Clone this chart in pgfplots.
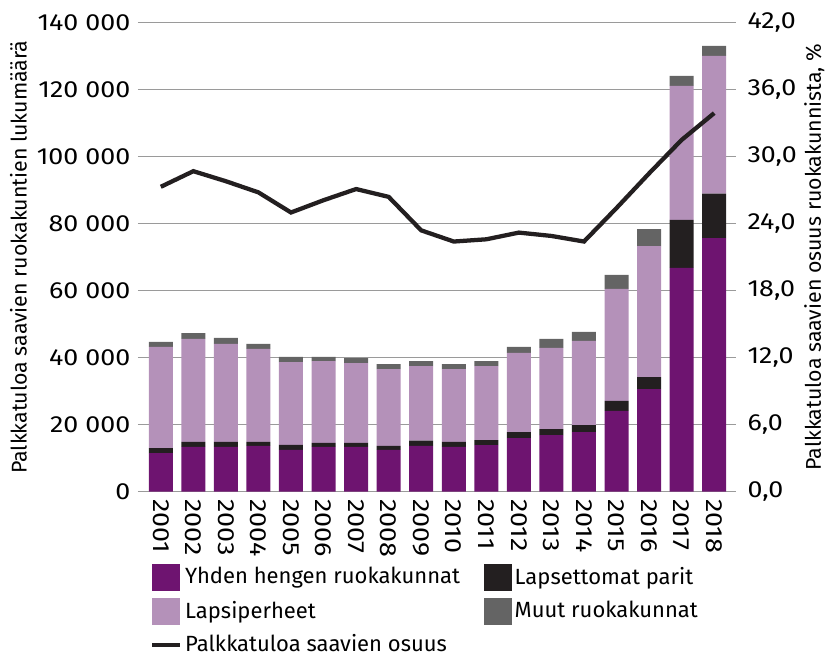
\documentclass[border=0pt]{standalone}
\usepackage{pgfplots}
\pgfplotsset{compat=1.18}
\usepackage{pgfplotstable}
\usepackage{fontspec}
\setmainfont{Fira Sans}
\newfontfamily\tickfont{Fira Sans}[FakeStretch=1.15]
\definecolor{cpurple}{HTML}{6E1470}
\definecolor{clilac}{HTML}{B491B9}
\definecolor{cblack}{HTML}{231F20}
\definecolor{cgray}{HTML}{646464}
\definecolor{cgrid}{HTML}{9A9A9A}
\pgfplotstableread{
x yhden lapsettomat lapsi muut
0 11500 1500 30200 1500
1 13400 1500 30700 1700
2 13400 1500 29200 1800
3 13700 1200 27700 1500
4 12500 1500 24700 1500
5 13400 1200 24400 1200
6 13400 1200 23800 1500
7 12500 1200 22900 1500
8 13700 1500 22300 1500
9 13400 1500 21700 1500
10 13900 1500 22100 1500
11 16000 1800 23600 1800
12 16900 1800 24200 2700
13 17800 2100 25100 2700
14 24100 3000 33400 4200
15 30600 3600 39100 5100
16 66800 14300 40000 3000
17 75700 13300 41100 3000
}\bars
\pgfplotstableread{
x osuus
0 27.3
1 28.7
2 27.8
3 26.8
4 25.0
5 26.1
6 27.1
7 26.4
8 23.4
9 22.4
10 22.6
11 23.2
12 22.9
13 22.4
14 25.4
15 28.5
16 31.5
17 33.9
}\line
\begin{document}
\fontsize{16.5pt}{19pt}\selectfont
\begin{tikzpicture}
\path[use as bounding box] (-103.5pt,-124pt) rectangle (517.5pt,368.75pt);
\begin{axis}[
  at={(0,0)}, anchor=south west,
  scale only axis, width=448.5pt, height=351.75pt,
  ybar stacked, bar width=18pt,
  xmin=-0.7, xmax=17.67,
  ymin=0, ymax=140000,
  scaled y ticks=false,
  xtick=data,
  xticklabels={2001,2002,2003,2004,2005,2006,2007,2008,2009,2010,2011,2012,2013,2014,2015,2016,2017,2018},
  xticklabel style={rotate=-90, anchor=west, font=\tickfont\fontsize{17.5pt}{19pt}\selectfont},
  ytick={0,20000,40000,60000,80000,100000,120000,140000},
  yticklabels={0,20 000,40 000,60 000,80 000,100 000,120 000,140 000},
  yticklabel style={font=\tickfont\fontsize{17.5pt}{19pt}\selectfont},
  axis line style={draw=none},
  major tick length=0pt,
  ymajorgrids, grid style={cgrid, line width=0.8pt},
  ylabel={Palkkatuloa saavien ruokakuntien lukumäärä},
  every axis y label/.style={at={(axis description cs:-0.2000,0.5)}, anchor=center, rotate=90, font=\fontsize{16pt}{18pt}\selectfont},
  legend columns=2,
  legend cell align=left,
  legend style={draw=none, fill=none, at={(axis description cs:0,0)}, anchor=north west,
    xshift=6pt, yshift=-52pt, font=\fontsize{16.5pt}{19pt}\selectfont,
    /tikz/every even column/.append style={column sep=16pt},
    row sep=5.5pt},
  area legend,
  legend image code/.code={\fill[#1] (0pt,-10pt) rectangle (21pt,10pt);},
]
\addplot[fill=cpurple, draw=none] table[x=x, y=yhden] {\bars};
\addlegendentry{Yhden hengen ruokakunnat}
\addplot[fill=cblack, draw=none] table[x=x, y=lapsettomat] {\bars};
\addlegendentry{Lapsettomat parit}
\addplot[fill=clilac, draw=none] table[x=x, y=lapsi] {\bars};
\addlegendentry{Lapsiperheet}
\addplot[fill=cgray, draw=none] table[x=x, y=muut] {\bars};
\addlegendentry{Muut ruokakunnat}
\addlegendimage{legend image code/.code={\draw[cblack, line width=3.2pt] (0pt,0pt) -- (21pt,0pt);}}
\addlegendentry{Palkkatuloa saavien osuus}
\end{axis}
\begin{axis}[
  at={(0,0)}, anchor=south west,
  scale only axis, width=448.5pt, height=351.75pt,
  xmin=-0.7, xmax=17.67,
  ymin=0, ymax=42,
  axis x line=none,
  axis y line*=right,
  axis line style={draw=none},
  major tick length=0pt,
  ytick={0,6,12,18,24,30,36,42},
  yticklabels={{0,0},{6,0},{12,0},{18,0},{24,0},{30,0},{36,0},{42,0}},
  yticklabel style={font=\tickfont\fontsize{17.5pt}{19pt}\selectfont, xshift=3pt},
  ylabel={Palkkatuloa saavien osuus ruokakunnista, \%},
  every axis y label/.style={at={(axis description cs:1.1310,0.5)}, anchor=center, rotate=90, font=\fontsize{16pt}{18pt}\selectfont},
]
\addplot[cblack, line width=3.2pt, line join=miter, mark=none] table[x=x, y=osuus] {\line};
\end{axis}
\end{tikzpicture}
\end{document}
